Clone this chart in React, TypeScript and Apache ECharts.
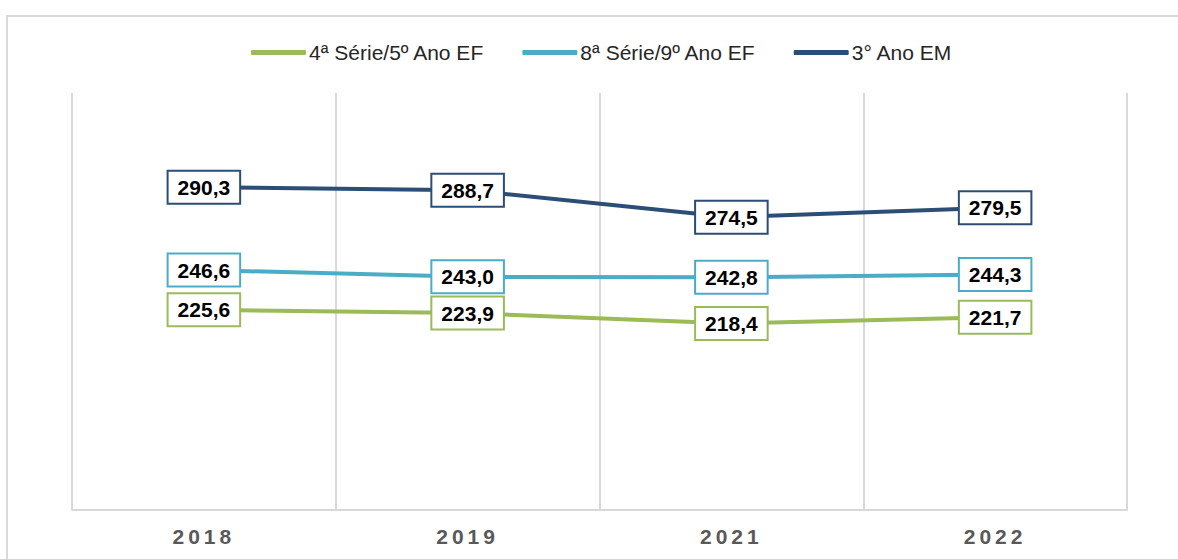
import React, { useEffect, useRef } from "react";
import * as echarts from "echarts";

const categories = ["2018", "2019", "2021", "2022"];
const seriesNames = ["4ª Série/5º Ano EF", "8ª Série/9º Ano EF", "3° Ano EM"];
const serie5ano = [225.6, 223.9, 218.4, 221.7];
const serie9ano = [246.6, 243.0, 242.8, 244.3];
const serie3em = [290.3, 288.7, 274.5, 279.5];
const colors = ["#9BBB59", "#4BACC6", "#2C4D75"];

const fmt = (v: number) => v.toFixed(1).replace(".", ",");

export default function App() {
  const ref = useRef<HTMLDivElement>(null);
  useEffect(() => {
    if (!ref.current) return;
    const chart = echarts.init(ref.current, null, { renderer: "svg" });
    const values = [serie5ano, serie9ano, serie3em];
    chart.setOption({
      animation: false,
      backgroundColor: "#ffffff",
      textStyle: { fontFamily: "Liberation Sans, Arial, sans-serif" },
      graphic: [
        {
          type: "rect",
          silent: true,
          z: -10,
          shape: { x: 7, y: 16, width: 1220, height: 620 },
          style: { fill: "none", stroke: "#d9d9d9", lineWidth: 2 },
        },
      ],
      legend: {
        left: 246,
        top: 37,
        itemGap: 38,
        itemWidth: 55,
        itemHeight: 5,
        icon: "roundRect",
        textStyle: {
          fontSize: 21,
          color: "#262626",
          fontFamily: "Liberation Sans, Arial, sans-serif",
          padding: [0, 0, 0, -2],
        },
        data: seriesNames,
      },
      grid: { left: 72, right: 51, top: 93, bottom: 49 },
      xAxis: {
        type: "category",
        data: categories,
        boundaryGap: true,
        axisLine: { show: true, lineStyle: { color: "#d9d9d9", width: 2 } },
        axisTick: { show: false },
        splitLine: { show: true, lineStyle: { color: "#d9d9d9", width: 2 } },
        axisLabel: {
          margin: 16,
          fontSize: 21,
          fontWeight: "bold",
          color: "#595959",
          fontFamily: "Liberation Sans, Arial, sans-serif",
        },
      },
      yAxis: {
        type: "value",
        min: 120,
        max: 340,
        show: false,
        splitLine: { show: false },
      },
      series: seriesNames.map((name, i) => ({
        name,
        type: "line",
        data: values[i],
        symbol: "circle",
        symbolSize: 1,
        color: colors[i],
        lineStyle: { width: 4, color: colors[i] },
        itemStyle: { color: colors[i] },
        label: {
          show: true,
          position: "inside",
          formatter: (p: any) => fmt(p.value),
          fontSize: 21,
          fontWeight: "bold",
          color: "#000000",
          fontFamily: "Liberation Sans, Arial, sans-serif",
          backgroundColor: "#ffffff",
          borderColor: colors[i],
          borderWidth: 2,
          padding: [5, 9, 5, 9],
        },
      })),
    });
    const spaceYears = () => {
      const texts = ref.current?.querySelectorAll("text") || [];
      texts.forEach((t: any) => {
        if (categories.includes((t.textContent || "").trim())) {
          t.setAttribute("letter-spacing", "4");
        }
      });
    };
    spaceYears();
    chart.on("finished", spaceYears);
    return () => chart.dispose();
  }, []);
  return (
    <div
      ref={ref}
      style={{ position: "absolute", left: 0, top: 0, width: 1178, height: 559 }}
    />
  );
}
